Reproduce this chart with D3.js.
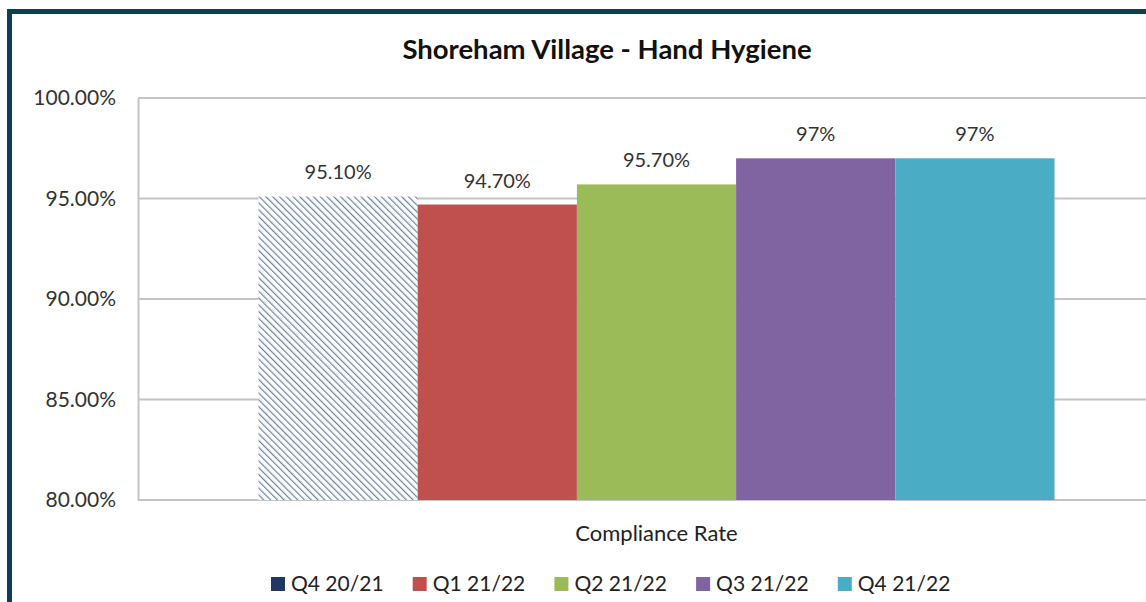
<!DOCTYPE html>
<html>
<head>
<meta charset="utf-8">
<script src="https://cdn.jsdelivr.net/npm/d3@7"></script>
<style>
  body { margin: 0; background: #fff; }
  svg { display: block; font-family: Lato, "Open Sans", sans-serif; }
</style>
</head>
<body>
<div id="chart"></div>
<script>
// data
var categories = ["Compliance Rate"];
var seriesNames = ["Q4 20/21", "Q1 21/22", "Q2 21/22", "Q3 21/22", "Q4 21/22"];
var seriesValues = [95.1, 94.7, 95.7, 97, 97];
var valueLabels = ["95.10%", "94.70%", "95.70%", "97%", "97%"];
var yTicks = [80, 85, 90, 95, 100];
var colors = ["#1f3864", "#c0504d", "#9bbb59", "#8064a2", "#4bacc6"];

const W = 1146, H = 602;
const margin = { left: 138, right: -29, top: 98, bottom: 102 };

var svg = d3.select('#chart').append('svg')
  .attr('width', W).attr('height', H);

// hatch pattern for first series
var defs = svg.append('defs');
var pat = defs.append('pattern')
  .attr('id', 'hatch')
  .attr('patternUnits', 'userSpaceOnUse')
  .attr('width', 4.8).attr('height', 4.8)
  .attr('patternTransform', 'rotate(-45)');
pat.append('rect').attr('width', 4.8).attr('height', 4.8).attr('fill', '#fff');
pat.append('line')
  .attr('x1', 0).attr('y1', 0).attr('x2', 0).attr('y2', 4.8)
  .attr('stroke', '#6a82a0').attr('stroke-width', 2.4);

// frame border
svg.append('path')
  .attr('d', 'M9.5,' + H + ' V11.5 H' + W)
  .attr('fill', 'none').attr('stroke', '#0d3f4e').attr('stroke-width', 5);

var x0 = margin.left, x1 = W - margin.right;
var y = d3.scaleLinear().domain([80, 100]).range([H - margin.bottom, margin.top]);
var xCat = d3.scaleBand().domain(categories).range([x0, x1]).paddingInner(0).paddingOuter(0.1514);
var xSer = d3.scaleBand().domain(seriesNames).range([0, xCat.bandwidth()]);

// gridlines
svg.append('g').selectAll('line')
  .data(yTicks).enter().append('line')
  .attr('x1', x0).attr('x2', x1)
  .attr('y1', function(d) { return y(d); })
  .attr('y2', function(d) { return y(d); })
  .attr('stroke', '#c4c4c4').attr('stroke-width', 2);

// y axis
var yAxis = svg.append('g')
  .attr('transform', 'translate(' + x0 + ',0)')
  .call(d3.axisLeft(y).tickValues(yTicks).tickSize(0).tickPadding(22)
    .tickFormat(function(d) { return d3.format('.2f')(d) + '%'; }));
yAxis.select('.domain').attr('stroke', '#c4c4c4').attr('stroke-width', 2);
yAxis.selectAll('text').attr('font-size', 21).attr('fill', '#333')
  .attr('font-family', 'Lato, sans-serif');

// bars
var g = svg.append('g').attr('transform', 'translate(' + xCat(categories[0]) + ',0)');
g.selectAll('rect')
  .data(seriesValues).enter().append('rect')
  .attr('x', function(d, i) { return xSer(seriesNames[i]); })
  .attr('width', xSer.bandwidth())
  .attr('y', function(d) { return y(d); })
  .attr('height', function(d) { return y(80) - y(d); })
  .attr('fill', function(d, i) { return i === 0 ? 'url(#hatch)' : colors[i]; });

g.selectAll('text')
  .data(seriesValues).enter().append('text')
  .attr('x', function(d, i) { return xSer(seriesNames[i]) + xSer.bandwidth() / 2; })
  .attr('y', function(d) { return y(d) - 17; })
  .attr('text-anchor', 'middle')
  .attr('font-size', 20).attr('fill', '#333')
  .text(function(d, i) { return valueLabels[i]; });

// category label
svg.append('text')
  .attr('x', xCat(categories[0]) + xCat.bandwidth() / 2)
  .attr('y', 541)
  .attr('text-anchor', 'middle')
  .attr('font-size', 22).attr('fill', '#222')
  .text(categories[0]);

// title
svg.append('text')
  .attr('x', 607).attr('y', 59)
  .attr('text-anchor', 'middle')
  .attr('font-size', 27.5).attr('font-weight', 'bold').attr('fill', '#111')
  .text('Shoreham Village - Hand Hygiene');

// legend
var leg = svg.append('g').selectAll('g')
  .data(seriesNames).enter().append('g')
  .attr('transform', function(d, i) { return 'translate(' + (271 + i * 141.7) + ',577)'; });
leg.append('rect').attr('width', 14).attr('height', 14)
  .attr('fill', function(d, i) { return colors[i]; });
leg.append('text').attr('x', 20).attr('y', 14)
  .attr('font-size', 21).attr('fill', '#222')
  .text(function(d) { return d; });
</script>
</body>
</html>
